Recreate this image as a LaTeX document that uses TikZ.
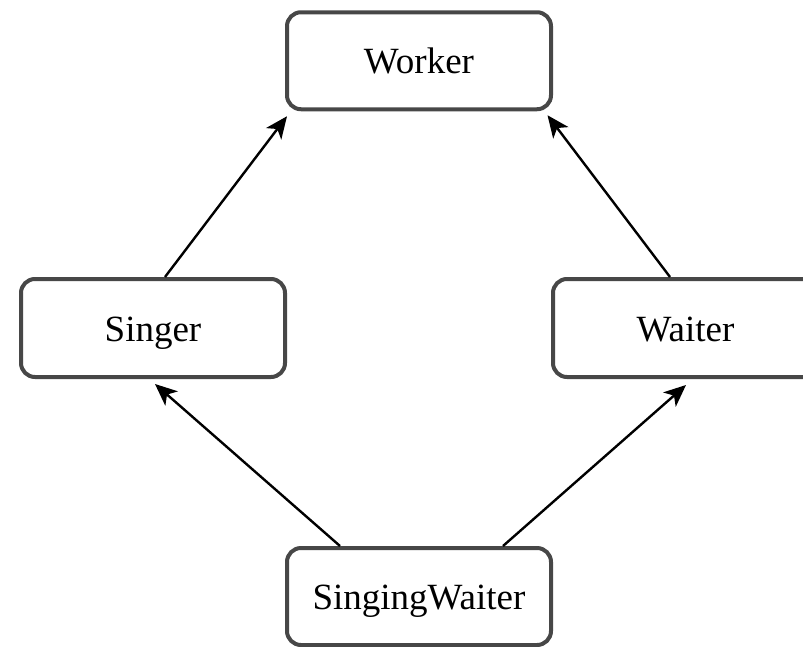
\documentclass[tikz,border=0pt]{standalone}
\usepackage{fontspec}
\setmainfont{Liberation Serif}
\usetikzlibrary{arrows.meta}
\definecolor{boxgray}{HTML}{474747}
\begin{document}
\begin{tikzpicture}[x=1pt,y=-1pt,
  classbox/.style={draw=boxgray,line width=4pt,rounded corners=14pt,fill=white,
    minimum width=264pt,minimum height=97pt,inner sep=0pt,
    text height=26pt,text depth=0pt,
    font=\fontsize{37}{40}\selectfont},
  inherit/.style={line width=2.4pt,-{Stealth[length=22pt,width=19pt,inset=6pt]}}]
\useasboundingbox (0,0) rectangle (803,646);
\node[classbox] (worker) at (419,60.75) {Worker};
\node[classbox,minimum height=98pt] (singer) at (153,328) {Singer};
\node[classbox,minimum height=98pt,minimum width=265pt] (waiter) at (685.5,328) {Waiter};
\node[classbox] (sw) at (419,596.5) {SingingWaiter};
\draw[inherit] ([xshift=12pt]singer.north) -- ([xshift=2pt,yshift=-5pt]worker.south west);
\draw[inherit] ([xshift=-15.5pt]waiter.north) -- ([xshift=-5.5pt,yshift=-4pt]worker.south east);
\draw[inherit] ([xshift=-79pt]sw.north) -- ([xshift=2pt,yshift=-5pt]singer.south);
\draw[inherit] ([xshift=84pt]sw.north) -- ([xshift=0.5pt,yshift=-6pt]waiter.south);
\end{tikzpicture}
\end{document}
